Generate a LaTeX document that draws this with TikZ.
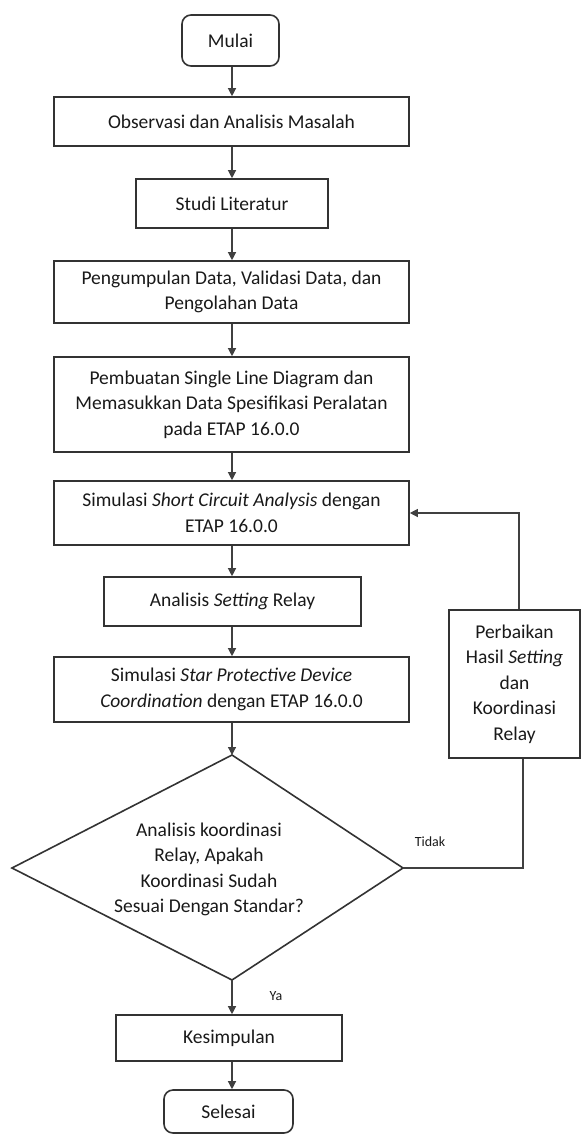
\documentclass[tikz,border=0pt]{standalone}
\usepackage{fontspec}
\setmainfont{Carlito}
\usetikzlibrary{arrows.meta,calc}
\begin{document}
\begin{tikzpicture}[x=1pt,y=-1pt,
  box/.style={draw=black!80,line width=1.6pt,align=center,inner sep=0pt,
    font=\fontsize{19.5}{25.5}\selectfont,text=black!90},
  term/.style={box,rounded corners=9pt},
  txt/.style={align=center,inner sep=0pt,font=\fontsize{19.5}{25.5}\selectfont,text=black!90},
  arr/.style={draw=black!75,line width=1.2pt,-{Triangle[length=8pt,width=8pt]}},
  conn/.style={draw=black!75,line width=1.2pt},
  lbl/.style={font=\fontsize{14}{16}\selectfont,text=black!90}
]
\useasboundingbox (0,0) rectangle (582,1135);
\coordinate (col) at (232,0);

\node[term,minimum width=97pt,minimum height=51pt] (mulai) at (230.5,40.5) {Mulai};
\node[box,minimum width=355pt,minimum height=49pt] (obs) at (231.5,121.5) {Observasi dan Analisis Masalah};
\node[box,minimum width=192pt,minimum height=49pt] (studi) at (232,203.5) {Studi Literatur};
\node[box,minimum width=355pt,minimum height=62pt] (peng) at (231.5,292) {Pengumpulan Data, Validasi Data, dan\\Pengolahan Data};
\node[box,minimum width=355pt,minimum height=95pt] (pemb) at (231.5,404.5) {Pembuatan Single Line Diagram dan\\Memasukkan Data Spesifikasi Peralatan\\pada ETAP 16.0.0};
\node[box,minimum width=355pt,minimum height=64pt] (sca) at (231.5,513) {Simulasi \textit{Short Circuit Analysis} dengan\\ETAP 16.0.0};
\node[box,minimum width=257pt,minimum height=49pt] (asr) at (232.5,601.5) {Analisis \textit{Setting} Relay};
\node[box,minimum width=355pt,minimum height=65pt] (spdc) at (231.5,689.5) {Simulasi \textit{Star Protective Device}\\\textit{Coordination} dengan ETAP 16.0.0};

% decision (asymmetric diamond)
\coordinate (dtop) at (232,755);
\coordinate (dright) at (403,868);
\coordinate (dbot) at (232,980);
\coordinate (dleft) at (12,868);
\draw[draw=black!80,line width=1.6pt] (dtop) -- (dright) -- (dbot) -- (dleft) -- cycle;
\node[txt] (diatext) at (209,869.5) {Analisis koordinasi\\Relay, Apakah\\Koordinasi Sudah\\Sesuai Dengan Standar?};

\node[box,minimum width=131pt,minimum height=148pt] (perb) at (514.5,684) {Perbaikan\\Hasil \textit{Setting}\\dan\\Koordinasi\\Relay};
\node[box,minimum width=226pt,minimum height=46pt] (kes) at (229,1038) {Kesimpulan};
\node[term,minimum width=129pt,minimum height=43pt] (sel) at (228.5,1111.5) {Selesai};

\draw[arr] (mulai.south -| col) -- (obs.north -| col);
\draw[arr] (obs.south -| col) -- (studi.north -| col);
\draw[arr] (studi.south -| col) -- (peng.north -| col);
\draw[arr] (peng.south -| col) -- (pemb.north -| col);
\draw[arr] (pemb.south -| col) -- (sca.north -| col);
\draw[arr] (sca.south -| col) -- (asr.north -| col);
\draw[arr] (asr.south -| col) -- (spdc.north -| col);
\draw[arr] (spdc.south -| col) -- (dtop);
\draw[arr] (dbot) -- (kes.north -| col);
\draw[arr] (kes.south -| col) -- (sel.north -| col);

\draw[conn] (dright) -| ([xshift=8.5pt]perb.south);
\draw[arr] ([xshift=4.5pt]perb.north) |- (sca.east);

\node[lbl] (tidak) at (430,842) {Tidak};
\node[lbl] (ya) at (276,996) {Ya};
\end{tikzpicture}
\end{document}
